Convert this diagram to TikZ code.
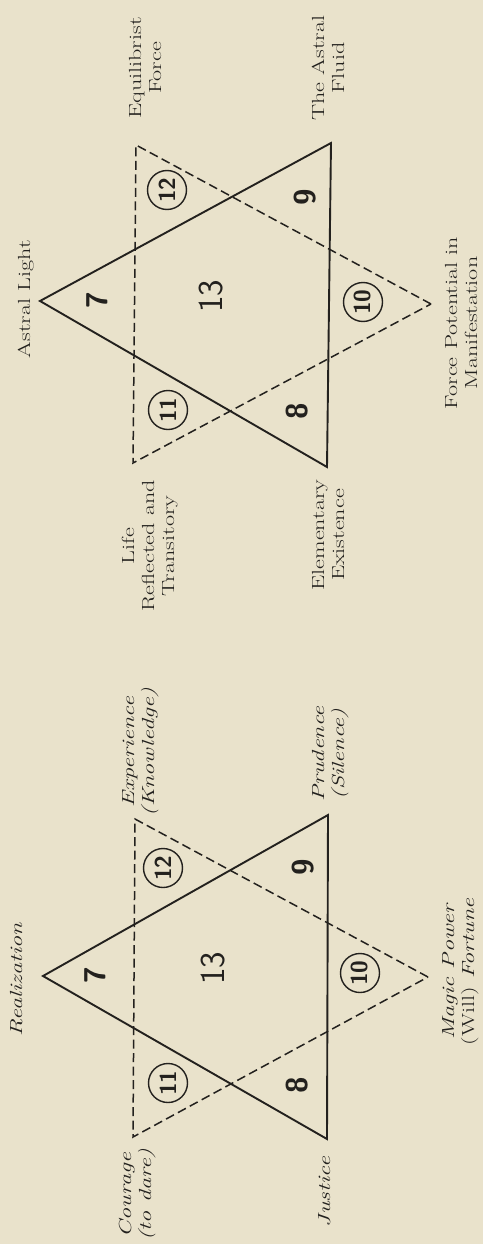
\documentclass[tikz,border=0pt]{standalone}
\usepackage{fontspec}
\definecolor{paper}{RGB}{233,226,203}
\definecolor{ink}{RGB}{35,33,30}
\newcommand{\wlab}[1]{\scalebox{1.38}[1]{\begin{tabular}{@{}c@{}}#1\end{tabular}}}
\begin{document}
\begin{tikzpicture}[x=1pt,y=-1pt,
  tri/.style={draw=ink, line width=1.9pt, line join=miter},
  dtri/.style={draw=ink, line width=1.5pt, dash pattern=on 9pt off 4.5pt},
  lbl/.style={rotate=90, inner sep=0pt, text=ink,
    font=\fontsize{17.5}{20}\selectfont},
  ilbl/.style={rotate=90, inner sep=0pt, text=ink,
    font=\fontsize{17.5}{20}\selectfont\itshape},
  num/.style={rotate=90, inner sep=0pt, text=ink,
    font=\sffamily\bfseries\fontsize{30}{30}\selectfont},
  bignum/.style={rotate=90, inner sep=0pt, text=ink,
    font=\sffamily\fontsize{35}{35}\selectfont},
  cnum/.style={circle, draw=ink, line width=1.4pt, minimum size=39pt, inner sep=0pt,
    rotate=90, text=ink, font=\sffamily\bfseries\fontsize{23}{23}\selectfont}
  ]
\path[fill=paper] (0,0) rectangle (483,1244);
\useasboundingbox (0,0) rectangle (483,1244);

% ---------- upper star ----------
\coordinate (uSa) at (40,301);
\coordinate (uSt) at (331,143);
\coordinate (uSb) at (327,467);
\coordinate (uDt) at (136,145);
\coordinate (uDb) at (133,463);
\coordinate (uDa) at (431,304);
\draw[tri] (uSa) -- (uSt) -- (uSb) -- cycle;
\draw[dtri] (uDa) -- (uDt) -- (uDb) -- cycle;

\node[num] (u7) at (97,300) {7};
\node[bignum] (u13) at (211,296) {13};
\node[cnum] (u12) at (167,190) {12};
\node[num] (u9) at (305,197) {9};
\node[cnum] (u10) at (363,302) {10};
\node[cnum] (u11) at (168,410) {11};
\node[num] (u8) at (297,411) {8};

\node[lbl] (uL1) at (26,299) {\wlab{Astral Light}};
\node[lbl] (uL2) at (147,68) {\wlab{Equilibrist\\Force}};
\node[lbl] (uL3) at (330,68) {\wlab{The Astral\\Fluid}};
\node[lbl] (uL4) at (463,323) {\wlab{Force Potential in\\Manifestation}};
\node[lbl] (uL5) at (150,546) {\wlab{Life\\Reflected and\\Transitory}};
\node[lbl] (uL6) at (330,535) {\wlab{Elementary\\Existence}};

% ---------- lower star ----------
\coordinate (lSa) at (43,976);
\coordinate (lSt) at (328,815);
\coordinate (lSb) at (327,1139);
\coordinate (lDt) at (135,819);
\coordinate (lDb) at (133,1137);
\coordinate (lDa) at (428,977);
\draw[tri] (lSa) -- (lSt) -- (lSb) -- cycle;
\draw[dtri] (lDa) -- (lDt) -- (lDb) -- cycle;

\node[num] (l7) at (95,975) {7};
\node[bignum] (l13) at (213,968) {13};
\node[cnum] (l12) at (163,868) {12};
\node[num] (l9) at (303,867) {9};
\node[cnum] (l10) at (360,973) {10};
\node[cnum] (l11) at (168,1083) {11};
\node[num] (l8) at (297,1085) {8};

\node[ilbl] (lL1) at (18,980) {\wlab{Realization}};
\node[ilbl] (lL2) at (140,752) {\wlab{Experience\\(Knowledge)}};
\node[ilbl] (lL3) at (330,754) {\wlab{Prudence\\(Silence)}};
\node[ilbl] (lL4) at (460,972) {\wlab{Magic Power\\{\upshape(Will)} Fortune}};
\node[ilbl] (lL5) at (137,1195) {\wlab{Courage\\(to dare)}};
\node[ilbl] (lL6) at (326,1192) {\wlab{Justice}};
\end{tikzpicture}
\end{document}
